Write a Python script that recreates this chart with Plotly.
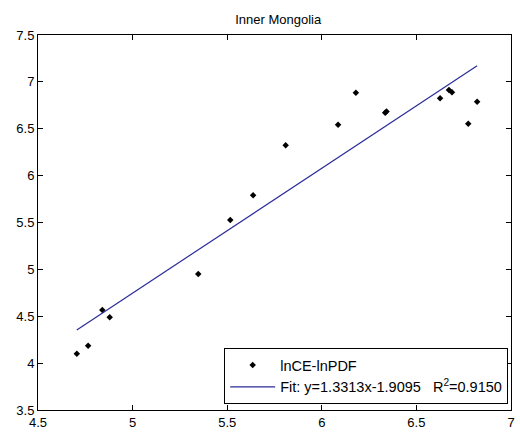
import plotly.graph_objects as go

ln_ce = [4.705, 4.765, 4.840, 4.879, 5.347, 5.516, 5.637, 5.809, 6.086, 6.180, 6.335, 6.342, 6.625, 6.672, 6.688, 6.774, 6.821]
ln_pdf = [4.100, 4.186, 4.567, 4.490, 4.950, 5.527, 5.790, 6.323, 6.543, 6.885, 6.672, 6.684, 6.825, 6.913, 6.890, 6.554, 6.789]
slope = 1.3313
intercept = -1.9095
r2 = 0.9150
x_ticks = [4.5, 5, 5.5, 6, 6.5, 7]
y_ticks = [3.5, 4, 4.5, 5, 5.5, 6, 6.5, 7, 7.5]

fit_x = [min(ln_ce), max(ln_ce)]
fit_y = [slope * v + intercept for v in fit_x]

fig = go.Figure()
fig.add_trace(go.Scatter(x=ln_ce, y=ln_pdf, mode="markers", name="lnCE-lnPDF",
                         marker=dict(symbol="diamond", size=5, color="black")))
fig.add_trace(go.Scatter(x=fit_x, y=fit_y, mode="lines",
                         name=f"Fit: y={slope:.4f}x{intercept:.4f}   R<sup>2</sup>={r2:.4f}",
                         line=dict(color="#2b2b9a", width=1.2)))

axis_common = dict(showgrid=False, zeroline=False, showline=True, linecolor="black", linewidth=1,
                   mirror="ticks", ticks="inside", ticklen=5, tickcolor="black",
                   tickfont=dict(family="Arial, Liberation Sans", size=13, color="black"))
fig.update_xaxes(range=[4.5, 7], tickvals=x_ticks, ticktext=[f"{v:g}" for v in x_ticks], **axis_common)
fig.update_yaxes(range=[3.5, 7.5], tickvals=y_ticks, ticktext=[f"{v:g}" for v in y_ticks], **axis_common)

fig.update_layout(
    width=520, height=435,
    margin=dict(l=38, r=5, t=35, b=25),
    paper_bgcolor="white", plot_bgcolor="white",
    title=dict(text="Inner Mongolia", x=0.535, xanchor="center", y=0.955, yanchor="middle",
               font=dict(family="Arial, Liberation Sans", size=13, color="black")),
    legend=dict(x=0.994, y=0.016, xanchor="right", yanchor="bottom",
                bgcolor="white", bordercolor="black", borderwidth=1,
                font=dict(family="Arial, Liberation Sans", size=14.5, color="black"),
                itemwidth=45, tracegroupgap=0),
    showlegend=True,
)

fig.write_html("out.html")
